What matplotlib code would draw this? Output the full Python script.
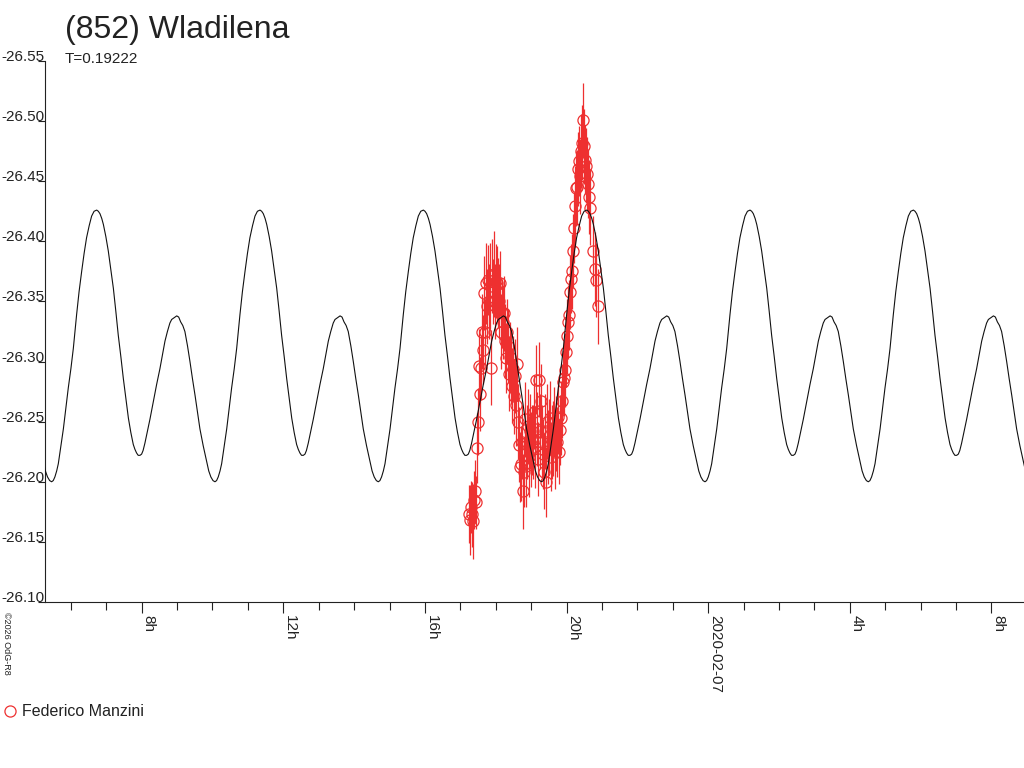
import numpy as np
import matplotlib
matplotlib.use('Agg')
import matplotlib.pyplot as plt
import matplotlib.dates as mdates
from matplotlib.lines import Line2D
from matplotlib.ticker import MultipleLocator, FuncFormatter
from datetime import datetime, timedelta

plt.rcParams['font.family'] = ['Liberation Sans', 'DejaVu Sans']

# periodo (giorni) scritto sul grafico, epoca del minimo profondo in ore dal 2020-02-06 00:00
period_days = 0.19222
epoch_hour = 10.07

# forma della curva modello su un periodo (fase, magnitudine)
model_phase = [0.000, 0.010, 0.020, 0.031, 0.041, 0.056, 0.072, 0.087, 0.102, 0.118,
               0.133, 0.143, 0.153, 0.168, 0.184, 0.199, 0.214, 0.230, 0.245, 0.260,
               0.276, 0.286, 0.296, 0.307, 0.317, 0.332, 0.347, 0.362, 0.378, 0.393,
               0.408, 0.424, 0.439, 0.455, 0.470, 0.485, 0.500, 0.510, 0.520, 0.530,
               0.541, 0.551, 0.560, 0.571, 0.582, 0.602, 0.623, 0.643, 0.663, 0.679,
               0.694, 0.709, 0.724, 0.735, 0.745, 0.755, 0.766, 0.778, 0.790, 0.803,
               0.816, 0.832, 0.847, 0.862, 0.878, 0.893, 0.908, 0.928, 0.949, 0.962,
               0.975, 0.988]
model_mag = [-26.200, -26.201, -26.204, -26.209, -26.215, -26.229, -26.244, -26.261, -26.278, -26.294,
             -26.311, -26.325, -26.339, -26.358, -26.375, -26.390, -26.403, -26.413, -26.421, -26.425,
             -26.426, -26.425, -26.423, -26.419, -26.414, -26.404, -26.392, -26.377, -26.361, -26.342,
             -26.322, -26.304, -26.286, -26.269, -26.253, -26.241, -26.231, -26.227, -26.224, -26.222,
             -26.222, -26.223, -26.226, -26.232, -26.239, -26.252, -26.267, -26.281, -26.294, -26.306,
             -26.317, -26.325, -26.332, -26.335, -26.336, -26.337, -26.338, -26.337, -26.333, -26.330,
             -26.325, -26.313, -26.300, -26.286, -26.272, -26.258, -26.244, -26.230, -26.217, -26.209,
             -26.204, -26.201]

# osservazioni: ore dal 2020-02-06 00:00 UT, magnitudine, errore
obs_hour = [17.246, 17.274, 17.303, 17.331, 17.359, 17.387, 17.415, 17.444, 17.472, 17.500,
            17.557, 17.529, 17.585, 17.613, 17.642, 17.670, 17.698, 17.726, 17.755, 17.783,
            17.811, 17.839, 17.868, 17.896, 17.924, 17.952, 17.981, 18.009, 18.037, 18.065,
            18.094, 18.122, 18.150, 18.178, 18.207, 18.235, 18.263, 18.291, 18.320, 18.348,
            18.376, 18.404, 18.433, 18.461, 18.489, 18.517, 18.546, 18.574, 18.602, 18.630,
            18.659, 18.687, 18.715, 18.743, 18.772, 18.800, 18.828, 18.856, 18.885, 18.913,
            18.941, 18.969, 18.998, 19.026, 19.054, 19.082, 19.111, 19.139, 19.167, 19.195,
            19.224, 19.252, 19.280, 19.308, 19.337, 19.365, 19.393, 19.421, 19.450, 19.478,
            19.506, 19.534, 19.563, 19.591, 19.619, 19.647, 19.676, 19.704, 19.732, 19.760,
            19.789, 19.817, 19.845, 19.873, 19.902, 19.930, 19.958, 19.986, 20.015, 20.043,
            20.071, 20.099, 20.128, 20.156, 20.184, 20.212, 20.241, 20.269, 20.297, 20.325,
            20.354, 20.382, 20.410, 20.438, 20.467, 20.495, 20.523, 20.551, 20.580, 20.608,
            20.636, 20.664, 20.749, 20.806, 20.834, 20.890]
obs_mag = [-26.173, -26.168, -26.179, -26.173, -26.167, -26.185, -26.192, -26.183, -26.228, -26.250,
           -26.273, -26.296, -26.295, -26.325, -26.310, -26.357, -26.325, -26.365, -26.346, -26.368,
           -26.350, -26.363, -26.295, -26.371, -26.358, -26.373, -26.350, -26.367, -26.365, -26.357,
           -26.350, -26.365, -26.325, -26.340, -26.333, -26.340, -26.317, -26.303, -26.325, -26.313,
           -26.290, -26.304, -26.296, -26.280, -26.294, -26.271, -26.288, -26.264, -26.298, -26.250,
           -26.231, -26.212, -26.215, -26.233, -26.192, -26.208, -26.252, -26.213, -26.233, -26.246,
           -26.221, -26.242, -26.227, -26.235, -26.233, -26.258, -26.229, -26.285, -26.244, -26.219,
           -26.285, -26.242, -26.267, -26.233, -26.223, -26.208, -26.242, -26.200, -26.250, -26.229,
           -26.238, -26.253, -26.221, -26.233, -26.236, -26.250, -26.225, -26.240, -26.233, -26.254,
           -26.225, -26.243, -26.253, -26.267, -26.283, -26.286, -26.293, -26.308, -26.321, -26.333,
           -26.339, -26.358, -26.369, -26.375, -26.392, -26.411, -26.429, -26.444, -26.445, -26.460,
           -26.467, -26.454, -26.475, -26.482, -26.501, -26.479, -26.468, -26.463, -26.456, -26.448,
           -26.437, -26.428, -26.392, -26.377, -26.368, -26.346]
obs_err = [0.024, 0.029, 0.022, 0.027, 0.031, 0.024, 0.026, 0.022, 0.029, 0.028,
           0.031, 0.031, 0.027, 0.031, 0.029, 0.031, 0.027, 0.034, 0.031, 0.029,
           0.031, 0.036, 0.031, 0.031, 0.027, 0.036, 0.031, 0.031, 0.031, 0.029,
           0.031, 0.027, 0.031, 0.029, 0.031, 0.031, 0.031, 0.029, 0.027, 0.031,
           0.031, 0.029, 0.031, 0.031, 0.027, 0.031, 0.031, 0.034, 0.031, 0.031,
           0.031, 0.029, 0.031, 0.031, 0.031, 0.029, 0.031, 0.034, 0.031, 0.031,
           0.034, 0.031, 0.031, 0.029, 0.031, 0.031, 0.034, 0.029, 0.031, 0.031,
           0.031, 0.031, 0.031, 0.031, 0.029, 0.031, 0.031, 0.029, 0.031, 0.031,
           0.031, 0.031, 0.029, 0.031, 0.031, 0.029, 0.031, 0.031, 0.029, 0.031,
           0.027, 0.029, 0.031, 0.031, 0.027, 0.031, 0.031, 0.029, 0.031, 0.031,
           0.029, 0.031, 0.029, 0.031, 0.031, 0.029, 0.034, 0.031, 0.031, 0.031,
           0.029, 0.031, 0.031, 0.031, 0.031, 0.031, 0.029, 0.031, 0.031, 0.029,
           0.031, 0.031, 0.029, 0.031, 0.031, 0.031]

observer = 'Federico Manzini'
title = '(852) Wladilena'
start = datetime(2020, 2, 6)
x_min_hour = 5.27
x_max_hour = 32.92

red = '#ee3030'
t0 = mdates.date2num(start)


def ore_a_num(h):
    return t0 + np.asarray(h, dtype=float) / 24.0


def formatta_ora(v, pos):
    hh = int(round((v - t0) * 24))
    if hh % 24 == 0:
        return (start + timedelta(hours=hh)).strftime('%Y-%m-%d')
    return f'{hh % 24}h'


# ripete la forma del periodo su tutto l'intervallo mostrato
period_h = period_days * 24
fase = np.array(model_phase)
curva_h = np.concatenate([epoch_hour + (k + fase) * period_h for k in range(-2, 6)])
curva_m = np.concatenate([model_mag for k in range(-2, 6)])

fig = plt.figure(figsize=(10.24, 7.68), dpi=100)
ax = fig.add_axes([45 / 1024, (768 - 602) / 768, (1024 - 45) / 1024, (602 - 61) / 768])

ax.errorbar(ore_a_num(obs_hour), obs_mag, yerr=obs_err, fmt='o', ms=8, mfc='none',
            mec=red, mew=0.9, ecolor=red, elinewidth=0.9, capsize=0, zorder=2)
ax.plot(ore_a_num(curva_h), curva_m, color='#111111', lw=0.8, zorder=3)

ax.set_xlim(ore_a_num(x_min_hour), ore_a_num(x_max_hour))
ax.set_ylim(-26.10, -26.55)

for lato in ['top', 'right']:
    ax.spines[lato].set_visible(False)
for lato in ['left', 'bottom']:
    ax.spines[lato].set_linewidth(0.8)
    ax.spines[lato].set_color('#222222')

ax.yaxis.set_major_locator(MultipleLocator(0.05))
ax.yaxis.set_major_formatter(FuncFormatter(lambda v, p: f'{v:.2f}'))
ax.tick_params(axis='y', direction='out', length=5, width=0.8, pad=-5,
               labelsize=11, colors='#222222')
for lab in ax.get_yticklabels():
    lab.set_va('baseline')

ax.xaxis.set_major_locator(mdates.HourLocator(byhour=range(0, 24, 4)))
ax.xaxis.set_minor_locator(mdates.HourLocator())
ax.xaxis.set_major_formatter(FuncFormatter(formatta_ora))
ax.tick_params(axis='x', which='major', direction='out', length=8, width=0.8, pad=1.5,
               labelsize=11, labelrotation=-90, colors='#222222')
ax.tick_params(axis='x', which='minor', direction='out', length=6, width=0.8, colors='#222222')
plt.setp(ax.get_xticklabels(), ha='left', va='top')

fig.text(65 / 1024, 1 - 38 / 768, title, fontsize=23, va='baseline', color='#222222')
fig.text(65 / 1024, 1 - 63 / 768, f'T={period_days}', fontsize=11, va='baseline', color='#222222')
fig.text(2 / 1024, 1 - 612 / 768, '©2026 OdG-R8', rotation=-90, ha='left', va='top',
         fontsize=6.5, color='#222222')

proxy = Line2D([], [], ls='none', marker='o', ms=8, mfc='none', mec=red, mew=0.9, label=observer)
fig.legend(handles=[proxy], loc='center left', bbox_to_anchor=(4 / 1024, 1 - 712 / 768),
           frameon=False, handlelength=0.8, handletextpad=0.3, borderaxespad=0, borderpad=0,
           fontsize=11.5, labelcolor='#222222')

fig.savefig('out.png', dpi=100)
